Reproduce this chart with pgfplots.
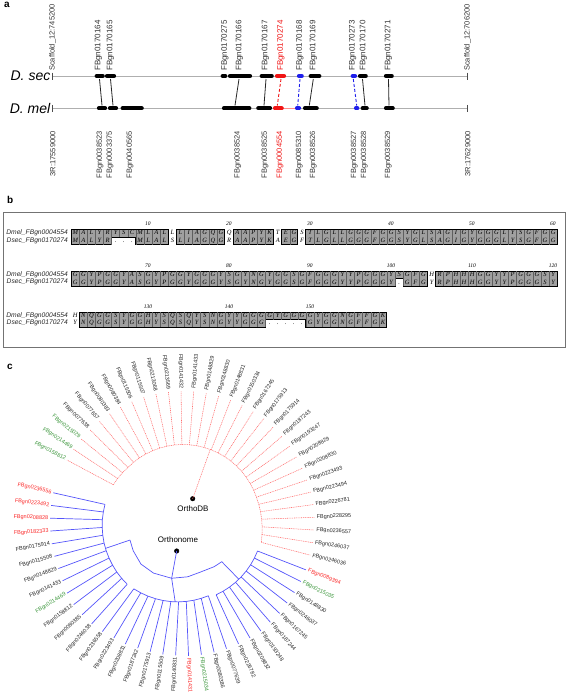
\documentclass[border=0pt]{standalone}
\usepackage{fontspec}
\setmainfont{Liberation Sans}
\newfontfamily\seqfont{Liberation Serif}
\usepackage{pgfplots}
\usepgfplotslibrary{polar}
\usepackage{pgfplotstable}
\pgfplotsset{compat=1.18}

\definecolor{tred}{RGB}{255,110,110}
\definecolor{tblue}{RGB}{85,85,250}
\definecolor{lred}{RGB}{250,40,40}
\definecolor{lgreen}{RGB}{60,150,60}
\definecolor{lblack}{RGB}{40,40,40}
\definecolor{cellgray}{RGB}{160,160,160}
\definecolor{sepgray}{RGB}{95,95,95}
\definecolor{bbone}{RGB}{175,175,175}
\definecolor{gblue}{RGB}{30,30,235}
\definecolor{gred}{RGB}{240,20,20}
\definecolor{glab}{RGB}{50,50,50}

\newlength\cellw
\setlength\cellw{8.1pt}
\def\seqloop#1{\ifx#1\relax\else\makebox[\cellw][c]{#1}\expandafter\seqloop\fi}
\newcommand\seqtext[1]{\seqloop#1\relax}

\pgfplotsset{
  redd/.style={color=tred, line width=0.55pt, dash pattern=on 1pt off 0.8pt, data cs=polar},
  blued/.style={color=tblue, line width=0.7pt, data cs=polar},
  leaflabels/.style={draw=none, mark=none, data cs=polar, nodes near coords, point meta=explicit symbolic,
    visualization depends on={\thisrow{rot}\as\rot},
    nodes near coords style={rotate=\rot, anchor=west, text=lblack, inner sep=0.6pt, font={\fontsize{5.5}{6}\selectfont}}},
}
\newcommand\rleaf[2]{\addplot[redd] coordinates {(#1,#2) (#1,131.5)};}
\newcommand\bleaf[3]{\addplot[blued] coordinates {(#1,#2) (#1,#3)};}
\newcommand\gene[4]{\addplot[color=#4, line width=4.2pt, line cap=round] coordinates {(#1,#3) (#2,#3)};}
\newcommand\glabT[3]{\node[rotate=90, anchor=west, inner sep=0pt, text=#3, font={\fontsize{8}{8.5}\selectfont}] at (axis cs:#1,71) {#2};}
\newcommand\glabB[3]{\node[rotate=90, anchor=east, inner sep=0pt, text=#3, font={\fontsize{7.5}{8}\selectfont}] at (axis cs:#1,131) {#2};}
\newcommand\rowname[2]{\node[anchor=east, inner sep=0pt, font={\itshape\fontsize{6.7}{7}\selectfont}, text=lblack] at (axis cs:68,#1) {#2};}
\newcommand\postick[3]{\node[inner sep=0pt, font={\seqfont\itshape\fontsize{5.5}{6}\selectfont}] at (axis cs:#1,#2) {#3};}
\newcommand\seqrow[2]{\node[anchor=west, inner sep=0pt, font={\seqfont\itshape\fontsize{6.5}{7}\selectfont}] at (axis cs:0,#1) {\seqtext{#2}};}
\newcommand\R{\color{lred}}
\newcommand\G{\color{lgreen}}

% leaf labels: angle, radius where the label starts, text rotation, name
\pgfplotstableread{
a r rot lab
151.9 168.7 -28.1 \G{}FBgn0158812
146.35 168.7 -33.65 \G{}FBgn0214469
140.8 168.7 -39.2 \G{}FBgn0215029
135.25 168.7 -44.75 FBgn0077638
129.7 168.7 -50.3 FBgn0077657
124.15 168.7 -55.85 FBgn0080383
118.6 168.7 -61.4 FBgn0080384
113.05 168.7 -66.95 FBgn0115506
107.5 168.7 -72.5 FBgn0115507
101.95 168.7 -78.05 FBgn0213068
96.4 168.7 -83.6 FBgn0213569
90.85 168.7 -89.15 FBgn0141432
85.3 133 85.3 FBgn0141433
79.75 133 79.75 FBgn0148829
74.2 133 74.2 FBgn0148830
68.65 133 68.65 FBgn0148831
63.1 133 63.1 FBgn0150334
57.55 133 57.55 FBgn0167245
52.0 133 52.0 FBgn0175913
46.45 133 46.45 FBgn0175914
40.9 133 40.9 FBgn0187243
35.35 133 35.35 FBgn0193247
29.8 133 29.8 FBgn0208829
24.25 133 24.25 FBgn0208830
18.7 133 18.7 FBgn0223493
13.15 133 13.15 FBgn0223494
7.6 133 7.6 FBgn0226781
2.05 133 2.05 FBgn0228295
-3.5 133 -3.5 FBgn0236557
-9.05 133 -9.05 FBgn0246037
-14.6 133 -14.6 FBgn0246036
}\redlab

\pgfplotstableread{
a r rot lab
167.3 170.2 -12.7 \R{}FBgn0236556
172.83 170.2 -7.17 \R{}FBgn0223492
178.36 170.2 -1.64 \R{}FBgn0208828
183.89 170.2 3.89 \R{}FBgn0182333
189.42 170.2 9.42 FBgn0175914
194.95 170.2 14.95 FBgn0115508
200.48 170.2 20.48 FBgn0148829
206.01 171.2 26.01 FBgn0141433
211.54 173.2 31.54 \G{}FBgn0214469
217.07 174.2 37.07 FBgn0158812
222.6 174.2 42.6 FBgn0080385
228.13 174.2 48.13 FBgn0246038
233.66 173.2 53.66 FBgn0236558
239.19 172.2 59.19 FBgn0223493
244.72 172.2 64.72 FBgn0208831
250.25 171.2 70.25 FBgn0187242
255.78 171.2 75.78 FBgn0175913
261.31 171.2 81.31 FBgn0115509
266.84 170.7 86.84 FBgn0140831
272.37 135.5 -87.63 \R{}FBgn0141431
277.9 135.5 -82.1 \G{}FBgn0215034
283.43 135.5 -76.57 FBgn0080386
288.96 135.5 -71.04 FBgn0077639
294.49 135.5 -65.51 FBgn0226782
300.02 135.5 -59.98 FBgn0208832
305.55 135.5 -54.45 FBgn0193248
311.08 134.5 -48.92 FBgn0187244
316.61 134.5 -43.39 FBgn0167245
322.14 133.5 -37.86 FBgn0246037
327.67 133.5 -32.33 FBgn0148830
333.2 133.5 -26.8 \G{}FBgn0215035
338.73 133.5 -21.27 \R{}FBgn0089394
}\bluelab

\begin{document}
\begin{tikzpicture}
%================ main pixel axis: panel a, frame of b, labels ================
\begin{axis}[at={(0,0)}, anchor=south west, scale only axis, width=567pt, height=694pt,
  xmin=0, xmax=567, ymin=0, ymax=694, y dir=reverse, hide axis, clip=false]
\addplot[draw=none] coordinates {(0,0) (567,694)};
% panel letters
\node[anchor=north west, inner sep=0pt, font={\bfseries\fontsize{10}{12}\selectfont}] at (axis cs:4,2) {a};
\node[anchor=north west, inner sep=0pt, font={\bfseries\fontsize{10}{12}\selectfont}] at (axis cs:7,196) {b};
\node[anchor=north west, inner sep=0pt, font={\bfseries\fontsize{10}{12}\selectfont}] at (axis cs:7,364) {c};
% backbones
\addplot[bbone, line width=1pt] coordinates {(52.7,76) (467.7,76)};
\addplot[bbone, line width=1pt] coordinates {(52.7,108.3) (467.7,108.3)};
\addplot[red!45, line width=1pt] coordinates {(281.7,108.3) (296,108.3)};
\addplot[black!70, line width=0.8pt] coordinates {(52.7,72.5) (52.7,79.5)};
\addplot[black!70, line width=0.8pt] coordinates {(467.7,72.5) (467.7,79.5)};
\addplot[black!70, line width=0.8pt] coordinates {(52.7,104.8) (52.7,111.8)};
\addplot[black!70, line width=0.8pt] coordinates {(467.7,104.8) (467.7,111.8)};
% links
\addplot[black!85, line width=0.8pt] coordinates {(99.5,79) (102,105.5)};
\addplot[black!85, line width=0.8pt] coordinates {(110.5,79) (113,105.5)};
\addplot[black!85, line width=0.8pt] coordinates {(239,79) (235,105.5)};
\addplot[black!85, line width=0.8pt] coordinates {(266,79) (264,105.5)};
\addplot[gred, line width=0.9pt, densely dashed] coordinates {(281,79) (277.3,105.5)};
\addplot[gblue, line width=0.9pt, densely dashed] coordinates {(300,79) (297.7,105.5)};
\addplot[black!85, line width=0.8pt] coordinates {(313.3,79) (309.3,105.5)};
\addplot[gblue, line width=0.9pt, densely dashed] coordinates {(353.3,79) (356.7,105.5)};
\addplot[black!85, line width=0.8pt] coordinates {(362.5,79) (365,105.5)};
\addplot[black!85, line width=0.8pt] coordinates {(388.5,79) (389,105.5)};
% D. sec genes
\gene{96.7}{102.7}{76}{black}
\gene{107}{114}{76}{black}
\gene{222.7}{225.3}{76}{black}
\gene{230}{250}{76}{black}
\gene{261.7}{271.7}{76}{black}
\gene{277}{284}{76}{gred}
\gene{299}{301.7}{76}{gblue}
\gene{310.7}{319.3}{76}{black}
\gene{352.7}{355}{76}{gblue}
\gene{360}{365.7}{76}{black}
\gene{386}{391.7}{76}{black}
% D. mel genes
\gene{99}{105}{108.3}{black}
\gene{110}{116}{108.3}{black}
\gene{122.7}{141.7}{108.3}{black}
\gene{224}{249.3}{108.3}{black}
\gene{258.3}{270}{108.3}{black}
\gene{275}{281.7}{108.3}{gred}
\gene{297}{299}{108.3}{gblue}
\gene{305}{316.7}{108.3}{black}
\gene{356}{357.3}{108.3}{gblue}
\gene{362.7}{366.7}{108.3}{black}
\gene{386}{392.7}{108.3}{black}
% species labels
\node[anchor=east, inner sep=0pt, font={\itshape\fontsize{14}{16}\selectfont}] at (axis cs:50.5,76) {D. sec};
\node[anchor=east, inner sep=0pt, font={\itshape\fontsize{14}{16}\selectfont}] at (axis cs:50.5,108.3) {D. mel};
% top labels
\node[rotate=90, anchor=west, inner sep=0pt, text=glab, font={\fontsize{7.5}{8}\selectfont}] at (axis cs:52.7,71) {Scaffold\_12:745200};
\node[rotate=90, anchor=west, inner sep=0pt, text=glab, font={\fontsize{7.5}{8}\selectfont}] at (axis cs:467.7,71) {Scaffold\_12:706200};
\glabT{98.5}{FBgn0170164}{glab}
\glabT{110.5}{FBgn0170165}{glab}
\glabT{224.8}{FBgn0170275}{glab}
\glabT{239.3}{FBgn0170166}{glab}
\glabT{265.3}{FBgn0170167}{glab}
\glabT{281}{FBgn0170274}{gred}
\glabT{300}{FBgn0170168}{glab}
\glabT{313.3}{FBgn0170169}{glab}
\glabT{352.7}{FBgn0170273}{glab}
\glabT{363.3}{FBgn0170170}{glab}
\glabT{388.3}{FBgn0170271}{glab}
% bottom labels
\glabB{52.7}{3R:17559000}{glab}
\glabB{467.7}{3R:17629000}{glab}
\glabB{100}{FBgn0038523}{glab}
\glabB{110}{FBgn0003375}{glab}
\glabB{130}{FBgn0040565}{glab}
\glabB{237.7}{FBgn0038524}{glab}
\glabB{265}{FBgn0038525}{glab}
\glabB{280}{FBgn0004554}{gred}
\glabB{299.3}{FBgn0085310}{glab}
\glabB{313.3}{FBgn0038526}{glab}
\glabB{354.3}{FBgn0038527}{glab}
\glabB{364.3}{FBgn0038528}{glab}
\glabB{388.3}{FBgn0038529}{glab}
% panel b frame
\addplot[black!55, line width=0.9pt] coordinates {(3,212) (565,212) (565,347) (3,347)} -- cycle;
% row names
\rowname{233.25}{Dmel\_FBgn0004554}
\rowname{240.75}{Dsec\_FBgn0170274}
\rowname{274.75}{Dmel\_FBgn0004554}
\rowname{282.25}{Dsec\_FBgn0170274}
\rowname{315.75}{Dmel\_FBgn0004554}
\rowname{323.25}{Dsec\_FBgn0170274}
% tree node dots and names
\addplot[only marks, mark=*, mark size=2.3pt, black] coordinates {(192.7,498.7) (176.7,551)};
\node[anchor=north, inner sep=0pt, font={\fontsize{8}{9}\selectfont}] at (axis cs:193,505) {OrthoDB};
\node[anchor=south, inner sep=0pt, font={\fontsize{8}{9}\selectfont}] at (axis cs:178,543) {Orthonome};
\end{axis}

%================ panel b: alignment (x in residue columns) ================
\begin{axis}[at={(0,0)}, anchor=south west, scale only axis, width=567pt, height=694pt,
  xmin=-8.7654, xmax=61.2346, ymin=0, ymax=694, y dir=reverse, hide axis, clip=false]
% blocks line 1
\addplot[fill=cellgray, draw=black, line width=1pt] coordinates {(0,229.5) (12,229.5) (12,244.5) (8,244.5) (8,237) (5,237) (5,244.5) (0,244.5)} -- cycle;
\addplot[fill=cellgray, draw=black, line width=1pt] coordinates {(13,229.5) (19,229.5) (19,244.5) (13,244.5)} -- cycle;
\addplot[fill=cellgray, draw=black, line width=1pt] coordinates {(20,229.5) (25,229.5) (25,244.5) (20,244.5)} -- cycle;
\addplot[fill=cellgray, draw=black, line width=1pt] coordinates {(26,229.5) (28,229.5) (28,244.5) (26,244.5)} -- cycle;
\addplot[fill=cellgray, draw=black, line width=1pt] coordinates {(29,229.5) (60,229.5) (60,244.5) (29,244.5)} -- cycle;
% blocks line 2
\addplot[fill=cellgray, draw=black, line width=1pt] coordinates {(0,271) (44,271) (44,286) (41,286) (41,278.5) (40,278.5) (40,286) (0,286)} -- cycle;
\addplot[fill=cellgray, draw=black, line width=1pt] coordinates {(45,271) (60,271) (60,286) (45,286)} -- cycle;
% block line 3
\addplot[fill=cellgray, draw=black, line width=1pt] coordinates {(1,312) (39,312) (39,327) (29,327) (29,319.5) (24,319.5) (24,327) (1,327)} -- cycle;
% cell separators
\addplot[only marks, mark=|, mark size=7.5pt, mark options={draw=sepgray, line width=0.35pt}] coordinates {
(1,237) (2,237) (3,237) (4,237) (5,237) (8,237) (9,237) (10,237) (11,237)
(14,237) (15,237) (16,237) (17,237) (18,237) (21,237) (22,237) (23,237) (24,237) (27,237)
(30,237) (31,237) (32,237) (33,237) (34,237) (35,237) (36,237) (37,237) (38,237) (39,237)
(40,237) (41,237) (42,237) (43,237) (44,237) (45,237) (46,237) (47,237) (48,237) (49,237)
(50,237) (51,237) (52,237) (53,237) (54,237) (55,237) (56,237) (57,237) (58,237) (59,237)
(1,278.5) (2,278.5) (3,278.5) (4,278.5) (5,278.5) (6,278.5) (7,278.5) (8,278.5) (9,278.5) (10,278.5)
(11,278.5) (12,278.5) (13,278.5) (14,278.5) (15,278.5) (16,278.5) (17,278.5) (18,278.5) (19,278.5) (20,278.5)
(21,278.5) (22,278.5) (23,278.5) (24,278.5) (25,278.5) (26,278.5) (27,278.5) (28,278.5) (29,278.5) (30,278.5)
(31,278.5) (32,278.5) (33,278.5) (34,278.5) (35,278.5) (36,278.5) (37,278.5) (38,278.5) (39,278.5) (40,278.5)
(41,278.5) (42,278.5) (43,278.5) (46,278.5) (47,278.5) (48,278.5) (49,278.5) (50,278.5) (51,278.5) (52,278.5)
(53,278.5) (54,278.5) (55,278.5) (56,278.5) (57,278.5) (58,278.5) (59,278.5)
(2,319.5) (3,319.5) (4,319.5) (5,319.5) (6,319.5) (7,319.5) (8,319.5) (9,319.5) (10,319.5) (11,319.5)
(12,319.5) (13,319.5) (14,319.5) (15,319.5) (16,319.5) (17,319.5) (18,319.5) (19,319.5) (20,319.5) (21,319.5)
(22,319.5) (23,319.5) (24,319.5) (29,319.5) (30,319.5) (31,319.5) (32,319.5) (33,319.5) (34,319.5) (35,319.5)
(36,319.5) (37,319.5) (38,319.5)};
\addplot[only marks, mark=|, mark size=3.75pt, mark options={draw=sepgray, line width=0.35pt}] coordinates {
(6,233.25) (7,233.25) (25,315.75) (26,315.75) (27,315.75) (28,315.75)};
% residues
\seqrow{233.25}{MALYRYSCMLALLLIAGQGQAAPYKTEGSTLGLLGGGFGGSYGLSAGIGYGGGLYSGFGG}
\seqrow{240.75}{MALYR...MLALSLIAGQGRAAPYKAEGFTLGLLGGGFGGSYGLSAGIGYGGGLYSGFGG}
\seqrow{274.75}{GGYPGGYASGYPGGYGGGYSGYNGYGGSGFGGGYYPGGGYSGFGHRPHHHGGYYPGGGSY}
\seqrow{282.25}{GGYPGGYASGYPGGYGGGYSGYNGYGGSGFGGGYYPGGGY.GFGYRPHHHGGYYPGGGSY}
\seqrow{315.75}{HNQGGSYGGHYSQSQYSNGYYGGGGYGGGGYGGNGFFGK}
\seqrow{323.25}{YNQGGSYGGHYSQSQYSNGYYGGG.....GYGGNGFFGK}
% position ticks
\postick{9.5}{223.5}{10}\postick{19.5}{223.5}{20}\postick{29.5}{223.5}{30}
\postick{39.5}{223.5}{40}\postick{49.5}{223.5}{50}\postick{59.5}{223.5}{60}
\postick{9.5}{265.5}{70}\postick{19.5}{265.5}{80}\postick{29.5}{265.5}{90}
\postick{39.5}{265.5}{100}\postick{49.5}{265.5}{110}\postick{59.5}{265.5}{120}
\postick{9.5}{306.5}{130}\postick{19.5}{306.5}{140}\postick{29.5}{306.5}{150}
\end{axis}

%================ panel c: circular tree (polar data around the tree centre) ================
\begin{axis}[at={(0,0)}, anchor=south west, scale only axis, width=567pt, height=694pt,
  xmin=-183, xmax=384, ymin=-172, ymax=522, hide axis, clip=false]
% OrthoDB clade
\addplot[redd] coordinates {(67.4,25.2) (69.4,77.5)};
\addplot[redd] coordinates {(151.9,79) (146.35,78.5) (140.8,78) (135.25,77.5) (129.7,77.5) (124.15,77.5) (118.6,77.5) (113.05,77.5) (107.5,77.5) (101.95,77.5) (96.4,77.5) (90.85,77.5) (85.3,77.5) (79.75,77.5) (74.2,77.5) (68.65,77.5) (63.1,77.5) (57.55,77.5) (52.0,77.5) (46.45,77.5) (40.9,77.5) (35.35,77.5) (29.8,77.5) (24.25,77.5) (18.7,77.5) (13.15,77.8) (7.6,78.2) (2.05,78.7) (-3.5,79.3) (-9.05,80) (-14.6,81)};
\rleaf{151.9}{79}\rleaf{146.35}{78.5}\rleaf{140.8}{78}\rleaf{135.25}{77.5}\rleaf{129.7}{77.5}
\rleaf{124.15}{77.5}\rleaf{118.6}{77.5}\rleaf{113.05}{77.5}\rleaf{107.5}{77.5}\rleaf{101.95}{77.5}
\rleaf{96.4}{77.5}\rleaf{90.85}{77.5}\rleaf{85.3}{77.5}\rleaf{79.75}{77.5}\rleaf{74.2}{77.5}
\rleaf{68.65}{77.5}\rleaf{63.1}{77.5}\rleaf{57.55}{77.5}\rleaf{52.0}{77.5}\rleaf{46.45}{77.5}
\rleaf{40.9}{77.5}\rleaf{35.35}{77.5}\rleaf{29.8}{77.5}\rleaf{24.25}{77.5}\rleaf{18.7}{77.5}
\rleaf{13.15}{77.8}\rleaf{7.6}{78.2}\rleaf{2.05}{78.7}\rleaf{-3.5}{79.3}\rleaf{-9.05}{80}
\rleaf{-14.6}{81}
% Orthonome clade
\addplot[blued] coordinates {(257.7,29.7) (258.6,57.4) (264.4,80.2)};
\addplot[blued] coordinates {(198.8,56) (210,57.5) (225,59.5) (240,59) (258.6,57.4) (275,55) (290,53) (305,54.5) (314.3,55.5)};
\addplot[blued] coordinates {(198.8,56) (198.8,81.9)};
\addplot[blued] coordinates {(314.3,55.5) (314.3,80)};
\addplot[blued] coordinates {(167.3,80.0) (172.83,80.3) (178.36,80.7) (183.89,81.0) (189.42,81.3) (194.95,81.7) (200.48,82.0) (206.01,82.3) (211.54,82.6) (217.07,83.0) (222.6,83.3) (228.13,83.6)};
\addplot[blued] coordinates {(233.66,83.0) (239.19,82.5) (244.72,82.0) (250.25,81.5) (255.78,81.0) (261.31,80.5) (264.4,80.2) (266.84,80.0) (272.37,79.5) (277.9,79.0) (283.43,78.5) (288.96,78.0)};
\addplot[blued] coordinates {(294.49,80) (300.02,80) (305.55,80) (311.08,80) (316.61,80) (322.14,80) (327.67,80) (333.2,80) (338.73,80)};
\bleaf{167.3}{80.0}{133}\bleaf{172.83}{80.3}{133}\bleaf{178.36}{80.7}{133}\bleaf{183.89}{81.0}{133}
\bleaf{189.42}{81.3}{133}\bleaf{194.95}{81.7}{133}\bleaf{200.48}{82.0}{133}\bleaf{206.01}{82.3}{134}
\bleaf{211.54}{82.6}{136}\bleaf{217.07}{83.0}{137}\bleaf{222.6}{83.3}{137}\bleaf{228.13}{83.6}{137}
\bleaf{233.66}{83.0}{136}\bleaf{239.19}{82.5}{135}\bleaf{244.72}{82.0}{135}\bleaf{250.25}{81.5}{134}
\bleaf{255.78}{81.0}{134}\bleaf{261.31}{80.5}{134}\bleaf{266.84}{80.0}{133.5}\bleaf{272.37}{79.5}{134}
\bleaf{277.9}{79.0}{134}\bleaf{283.43}{78.5}{134}\bleaf{288.96}{78.0}{134}\bleaf{294.49}{80}{134}
\bleaf{300.02}{80}{134}\bleaf{305.55}{80}{134}\bleaf{311.08}{80}{133}\bleaf{316.61}{80}{133}
\bleaf{322.14}{80}{132}\bleaf{327.67}{80}{132}\bleaf{333.2}{80}{132}\bleaf{338.73}{80}{132}
% leaf labels
\addplot[leaflabels] table[x=a, y=r, meta=lab] {\redlab};
\addplot[leaflabels] table[x=a, y=r, meta=lab] {\bluelab};
\end{axis}
\end{tikzpicture}
\end{document}
